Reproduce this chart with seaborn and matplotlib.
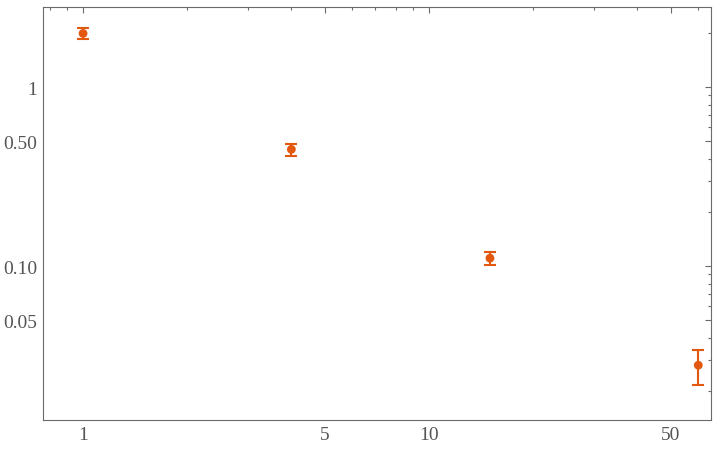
import numpy as np
import pandas as pd
import matplotlib
matplotlib.use("Agg")
import matplotlib.pyplot as plt
import matplotlib.ticker as mticker
import seaborn as sns

# ------ DATA ------ #
x_vals = [1.0, 4.0, 15.0, 60.0]
y_vals = [2.0, 0.45, 0.111, 0.028]
y_err = [0.15, 0.035, 0.009, 0.0062]

x_major = [1, 5, 10, 50]
x_major_labels = ["1", "5", "10", "50"]
y_major = [0.05, 0.1, 0.5, 1]
y_major_labels = ["0.05", "0.10", "0.50", "1"]

df = pd.DataFrame({"x": x_vals, "y": y_vals, "err": y_err})

# ------ STYLE ------ #
sns.set_style("white")
plt.rcParams["font.family"] = ["Liberation Serif", "DejaVu Serif"]

point_color = "#E2580F"
frame_color = "#6b6b6b"

fig, ax = plt.subplots(figsize=(7.2, 4.52), dpi=100)
fig.subplots_adjust(left=43 / 720, right=711 / 720, top=1 - 8 / 452, bottom=1 - 421 / 452)

ax.errorbar(df["x"], df["y"], yerr=df["err"], fmt="none",
            ecolor=point_color, elinewidth=1.5, capsize=4.5, capthick=1.5, zorder=2)
sns.scatterplot(data=df, x="x", y="y", ax=ax, color=point_color,
                s=40, edgecolor="none", zorder=3, legend=False)

ax.set_xscale("log")
ax.set_yscale("log")
ax.set_xlim(0.766, 65.3)
ax.set_ylim(0.01384, 2.81)
ax.set_xlabel("")
ax.set_ylabel("")

# ------ TICKS ------ #
ax.xaxis.set_major_locator(mticker.FixedLocator(x_major))
ax.xaxis.set_major_formatter(mticker.FixedFormatter(x_major_labels))
x_minor = [m * 10.0 ** e for e in (-1, 0, 1) for m in range(1, 10)]
x_minor = [v for v in x_minor if v not in x_major]
ax.xaxis.set_minor_locator(mticker.FixedLocator(x_minor))
ax.xaxis.set_minor_formatter(mticker.NullFormatter())

ax.yaxis.set_major_locator(mticker.FixedLocator(y_major))
ax.yaxis.set_major_formatter(mticker.FixedFormatter(y_major_labels))
y_minor = [round(m * 10.0 ** e, 4) for e in (-2, -1, 0) for m in range(1, 10)]
y_minor = [v for v in y_minor if v not in y_major]
ax.yaxis.set_minor_locator(mticker.FixedLocator(y_minor))
ax.yaxis.set_minor_formatter(mticker.NullFormatter())

ax.tick_params(which="both", direction="in", top=True, right=True,
               color=frame_color, width=0.8, labelcolor="#555555", labelsize=14)
ax.tick_params(which="major", length=4.5, pad=4)
ax.tick_params(which="minor", length=2.5)

for sp in ax.spines.values():
    sp.set_color(frame_color)
    sp.set_linewidth(0.8)

fig.savefig("out.png", dpi=100)
